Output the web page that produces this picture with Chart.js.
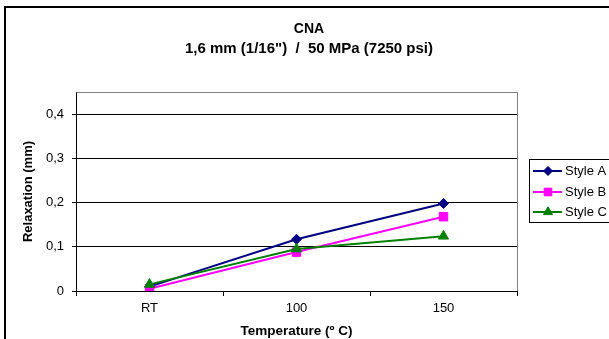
<!DOCTYPE html>
<html>
<head>
<meta charset="utf-8">
<script src="https://cdn.jsdelivr.net/npm/chart.js@4.4.1/dist/chart.umd.min.js"></script>
<style>
html,body{margin:0;padding:0;background:#fff;}
#wrap{width:609px;height:339px;position:relative;}
</style>
</head>
<body>
<div id="wrap"><canvas id="c" width="609" height="339"></canvas></div>
<script>
const categories = ['RT', '100', '150'];
const styleA = [0.010, 0.117, 0.198];
const styleB = [0.005, 0.088, 0.168];
const styleC = [0.015, 0.095, 0.124];
const seriesNames = ['Style A', 'Style B', 'Style C'];
const yTicks = [0, 0.1, 0.2, 0.3, 0.4];
const titleLine1 = 'CNA';
const titleLine2 = '1,6 mm (1/16")  /  50 MPa (7250 psi)';
const xTitle = 'Temperature (º C)';
const yTitle = 'Relaxation (mm)';

const FONT = "'Liberation Sans', Arial, sans-serif";

const decor = {
  id: 'decor',
  beforeDraw(chart) {
    const ctx = chart.ctx;
    ctx.save();
    ctx.fillStyle = '#fff';
    ctx.fillRect(0, 0, chart.width, chart.height);
    ctx.restore();
  },
  afterDraw(chart) {
    const ctx = chart.ctx;
    const a = chart.chartArea;
    ctx.save();
    // plot border top/right
    ctx.strokeStyle = '#808080';
    ctx.lineWidth = 1;
    ctx.beginPath();
    ctx.moveTo(Math.round(a.left) + 0.5, Math.round(a.top) + 0.5);
    ctx.lineTo(Math.round(a.right) + 0.5, Math.round(a.top) + 0.5);
    ctx.lineTo(Math.round(a.right) + 0.5, Math.round(a.bottom));
    ctx.stroke();
    // outer frame
    ctx.fillStyle = '#000';
    ctx.fillRect(4, 6, 605, 2);
    ctx.fillRect(4, 6, 2, 333);
    // titles
    ctx.fillStyle = '#000';
    ctx.textAlign = 'center';
    ctx.textBaseline = 'middle';
    ctx.font = 'bold 14px ' + FONT;
    ctx.fillText(titleLine1, 309, 29);
    ctx.font = 'bold 15px ' + FONT;
    ctx.fillText(titleLine2, 309, 49);
    ctx.font = 'bold 13.5px ' + FONT;
    ctx.fillText(xTitle, (a.left + a.right) / 2, 331);
    ctx.font = 'bold 13px ' + FONT;
    ctx.save();
    ctx.translate(28, (a.top + a.bottom) / 2);
    ctx.rotate(-Math.PI / 2);
    ctx.fillText(yTitle, 0, 0);
    ctx.restore();
    // legend
    ctx.strokeStyle = '#000';
    ctx.lineWidth = 1;
    ctx.strokeRect(529.5, 159.5, 100, 63);
    const ys = [171, 192, 212];
    chart.data.datasets.forEach((ds, i) => {
      const y = ys[i];
      ctx.strokeStyle = ds.borderColor;
      ctx.lineWidth = 2;
      ctx.beginPath();
      ctx.moveTo(533, y);
      ctx.lineTo(562, y);
      ctx.stroke();
      ctx.fillStyle = ds.pointBackgroundColor;
      ctx.strokeStyle = ds.pointBorderColor;
      ctx.lineWidth = 1;
      Chart.helpers.drawPoint(ctx, {
        pointStyle: ds.pointStyle,
        radius: ds.pointRadius * 0.9,
        borderWidth: 1,
        rotation: 0
      }, 548, y);
      ctx.fillStyle = '#000';
      ctx.font = '13px ' + FONT;
      ctx.textAlign = 'left';
      ctx.textBaseline = 'middle';
      ctx.fillText(ds.label, 565, y);
    });
    ctx.restore();
  }
};

function mk(label, data, color, style, r, order) {
  return {
    label, data, order,
    borderColor: color,
    backgroundColor: color,
    pointBackgroundColor: color,
    pointBorderColor: color,
    pointStyle: style,
    pointRadius: r,
    pointBorderWidth: 1,
    borderWidth: 2,
    tension: 0,
    fill: false
  };
}

new Chart(document.getElementById('c'), {
  type: 'line',
  data: {
    labels: categories,
    datasets: [
      mk(seriesNames[0], styleA, '#000080', 'rectRot', 5, 2),
      mk(seriesNames[1], styleB, '#FF00FF', 'rect', 6, 1),
      mk(seriesNames[2], styleC, '#008000', 'triangle', 5.8, 0)
    ]
  },
  options: {
    responsive: false,
    animation: false,
    devicePixelRatio: 1,
    layout: { padding: { left: 0, top: 92, right: 92, bottom: 0 } },
    plugins: {
      legend: { display: false },
      title: { display: false },
      tooltip: { enabled: false }
    },
    scales: {
      x: {
        type: 'category',
        offset: true,
        grid: { offset: true, drawOnChartArea: false, color: '#000', tickLength: 5, lineWidth: 1 },
        border: { display: true, color: '#000', width: 1 },
        ticks: { color: '#000', font: { family: FONT, size: 13 }, padding: 5, maxRotation: 0 },
        afterFit(s) { s.height = 48; }
      },
      y: {
        type: 'linear',
        min: 0,
        max: 0.45,
        afterBuildTicks(s) { s.ticks = yTicks.map(v => ({ value: v })); },
        grid: { color: '#000', lineWidth: 1, tickLength: 4, drawTicks: true },
        border: { display: true, color: '#000', width: 1 },
        ticks: {
          color: '#000',
          font: { family: FONT, size: 13 },
          padding: 8,
          callback(v) { return v === 0 ? '0' : v.toFixed(1).replace('.', ','); }
        },
        afterFit(s) { s.width = 76; }
      }
    }
  },
  plugins: [decor]
});
</script>
</body>
</html>
